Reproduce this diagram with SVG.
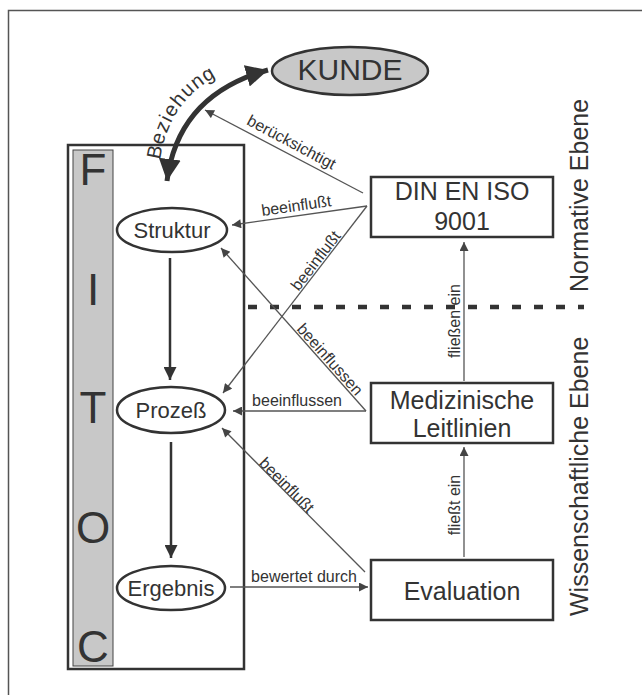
<svg xmlns="http://www.w3.org/2000/svg" width="642" height="695" viewBox="0 0 642 695">
<defs>
<style>
text{font-family:"Liberation Sans",Arial,sans-serif;fill:#333}
.box{fill:#fff;stroke:#333;stroke-width:2.5}
.ell{fill:#fff;stroke:#333;stroke-width:2.5}
.thin{fill:none;stroke:#555;stroke-width:1.3}
.thick{fill:none;stroke:#333;stroke-width:2.5}
.lbl{font-size:16px}
.big{font-size:25px;text-anchor:middle}
.mid{font-size:22px;text-anchor:middle}
.fitoc{font-size:44px;text-anchor:middle;fill:#333}
</style>
<marker id="ah" viewBox="0 0 10 10" refX="10" refY="5" markerWidth="11" markerHeight="9" markerUnits="userSpaceOnUse" orient="auto"><path d="M0,0 L10,5 L0,10 z" fill="#444"/></marker>
<marker id="ahb" viewBox="0 0 10 10" refX="10" refY="5" markerWidth="16" markerHeight="13" markerUnits="userSpaceOnUse" orient="auto"><path d="M0,0 L10,5 L0,10 z" fill="#333"/></marker>
<marker id="ahz" viewBox="0 0 10 10" refX="10" refY="5" markerWidth="22" markerHeight="22" markerUnits="userSpaceOnUse" orient="auto-start-reverse"><path d="M0,0 L10,5 L0,10 z" fill="#333"/></marker>
<path id="bzpath" d="M160,162 Q170,82 256,62"/>
</defs>
<rect width="642" height="695" fill="#fff"/>
<rect x="8.5" y="10.5" width="700" height="700" fill="none" stroke="#555" stroke-width="1.5"/>

<g id="fitoc">
<rect class="box" x="68" y="145" width="176" height="524"/>
<rect x="73" y="150" width="40" height="516" fill="#c8c8c8" stroke="#444" stroke-width="1"/>
<text class="fitoc" x="93" y="185">F</text>
<text class="fitoc" x="93" y="305">I</text>
<text class="fitoc" x="93" y="423">T</text>
<text class="fitoc" x="93" y="543">O</text>
<text class="fitoc" x="93" y="662">C</text>
</g>

<g id="kunde">
<ellipse cx="350" cy="71" rx="78" ry="24" fill="#c8c8c8" stroke="#333" stroke-width="2.5"/>
<text x="350" y="80" font-size="30" text-anchor="middle">KUNDE</text>
</g>

<g id="struktur">
<ellipse class="ell" cx="172" cy="230" rx="55" ry="22"/>
<text class="mid" x="172" y="238">Struktur</text>
</g>
<g id="prozess">
<ellipse class="ell" cx="171" cy="410" rx="54" ry="23"/>
<text class="mid" x="171" y="418">Prozeß</text>
</g>
<g id="ergebnis">
<ellipse class="ell" cx="171" cy="588" rx="54" ry="22"/>
<text class="mid" x="171" y="596">Ergebnis</text>
</g>

<g id="din">
<rect class="box" x="371" y="177" width="182" height="60"/>
<text class="big" x="462" y="200">DIN EN ISO</text>
<text class="big" x="462" y="230">9001</text>
</g>
<g id="leitlinien">
<rect class="box" x="371" y="383" width="182" height="60"/>
<text class="big" x="462" y="409">Medizinische</text>
<text class="big" x="462" y="437">Leitlinien</text>
</g>
<g id="evaluation">
<rect class="box" x="371" y="560" width="182" height="60"/>
<text class="big" x="462" y="600">Evaluation</text>
</g>

<g id="ebene">
<line x1="248" y1="307" x2="584" y2="307" stroke="#333" stroke-width="4.5" stroke-dasharray="9,13"/>
<text x="588" y="616" font-size="25" transform="rotate(-90 588 616)">Wissenschaftliche Ebene</text>
<text x="588" y="292" font-size="25" transform="rotate(-90 588 292)">Normative Ebene</text>
</g>

<g id="connectors">
<path d="M167,181 Q178,95 268,70" fill="none" stroke="#333" stroke-width="5" marker-start="url(#ahz)" marker-end="url(#ahz)"/>
<text font-size="20" letter-spacing="1.2"><textPath href="#bzpath" startOffset="2">Beziehung</textPath></text>

<line class="thick" x1="170" y1="258" x2="170" y2="380" marker-end="url(#ahb)"/>
<line class="thick" x1="171" y1="442" x2="171" y2="558" marker-end="url(#ahb)"/>

<line class="thin" x1="363" y1="193" x2="205" y2="110" marker-end="url(#ah)"/>
<text class="lbl" x="289" y="147" text-anchor="middle" transform="rotate(28 289 147)">berücksichtigt</text>

<line class="thin" x1="367" y1="206" x2="232" y2="225" marker-end="url(#ah)"/>
<text class="lbl" x="297" y="211" text-anchor="middle" transform="rotate(-8 297 211)">beeinflußt</text>

<line class="thin" x1="367" y1="206" x2="223" y2="393" marker-end="url(#ah)"/>
<text class="lbl" x="320" y="264" text-anchor="middle" transform="rotate(-52.4 320 264)">beeinflußt</text>

<line class="thin" x1="366" y1="411" x2="221" y2="248" marker-end="url(#ah)"/>
<text class="lbl" x="326" y="363" text-anchor="middle" transform="rotate(48.3 326 363)">beeinflussen</text>

<line class="thin" x1="366" y1="411" x2="233" y2="411" marker-end="url(#ah)"/>
<text class="lbl" x="297" y="406" text-anchor="middle">beeinflussen</text>

<line class="thin" x1="365" y1="572" x2="222" y2="428" marker-end="url(#ah)"/>
<text class="lbl" x="283" y="489" text-anchor="middle" transform="rotate(45.2 283 489)">beeinflußt</text>

<line class="thin" x1="230" y1="587" x2="368" y2="587" marker-end="url(#ah)"/>
<text class="lbl" x="304" y="582" text-anchor="middle">bewertet durch</text>

<line class="thin" x1="464" y1="381" x2="464" y2="242" marker-end="url(#ah)"/>
<text class="lbl" x="460" y="321" text-anchor="middle" transform="rotate(-90 460 321)">fließen ein</text>

<line class="thin" x1="464" y1="557" x2="464" y2="447" marker-end="url(#ah)"/>
<text class="lbl" x="460" y="505" text-anchor="middle" transform="rotate(-90 460 505)">fließt ein</text>
</g>
</svg>
